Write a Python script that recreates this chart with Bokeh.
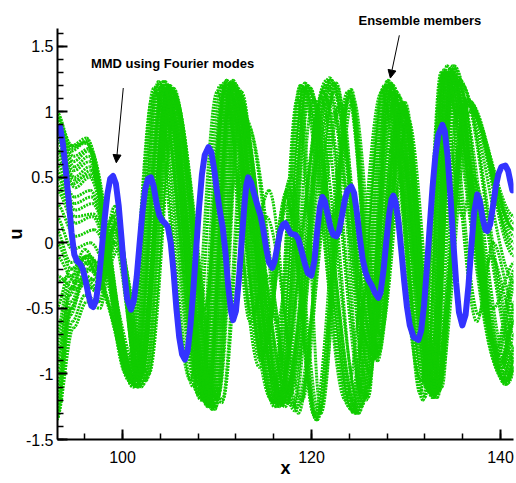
from bokeh.plotting import figure
from bokeh.models import Range1d, FixedTicker, Label, Arrow, NormalHead, Title
from bokeh.embed import file_html
from bokeh.resources import INLINE

# ---------------- data ----------------
# MMD (Fourier modes) curve: (x, u)
mmd_points = [
    (93.1, 0.86), (93.4, 0.88), (93.7, 0.75), (94.0, 0.55), (94.3, 0.33), (94.6, 0.08),
    (94.9, -0.09), (95.2, -0.14), (95.5, -0.16), (95.8, -0.20), (96.1, -0.29), (96.4, -0.40),
    (96.7, -0.48), (96.9, -0.49), (97.2, -0.44), (97.5, -0.28), (97.8, -0.05), (98.1, 0.18),
    (98.4, 0.37), (98.7, 0.49), (99.0, 0.51), (99.3, 0.45), (99.6, 0.28), (99.9, 0.03),
    (100.2, -0.24), (100.5, -0.43), (100.9, -0.51), (101.2, -0.44), (101.5, -0.26), (101.8, -0.01),
    (102.1, 0.23), (102.4, 0.41), (102.7, 0.49), (103.0, 0.50), (103.3, 0.43), (103.6, 0.30),
    (103.9, 0.21), (104.2, 0.17), (104.5, 0.15), (104.8, 0.12), (105.1, 0.00), (105.4, -0.22),
    (105.7, -0.50), (106.0, -0.72), (106.3, -0.85), (106.6, -0.89), (106.9, -0.82), (107.2, -0.62),
    (107.5, -0.35), (107.8, -0.04), (108.1, 0.27), (108.4, 0.52), (108.7, 0.67), (109.1, 0.73),
    (109.4, 0.69), (109.7, 0.56), (110.0, 0.39), (110.3, 0.24), (110.6, 0.12), (110.9, -0.08),
    (111.2, -0.34), (111.5, -0.53), (111.7, -0.59), (112.0, -0.52), (112.3, -0.29), (112.6, 0.01),
    (112.9, 0.29), (113.1, 0.44), (113.3, 0.50), (113.6, 0.46), (113.9, 0.38), (114.3, 0.28),
    (114.6, 0.21), (114.9, 0.10), (115.2, -0.04), (115.5, -0.15), (115.85, -0.19), (116.1, -0.14),
    (116.4, -0.02), (116.7, 0.09), (117.0, 0.14), (117.23, 0.15), (117.5, 0.11), (117.8, 0.07),
    (118.3, 0.06), (118.6, 0.03), (118.9, -0.05), (119.3, -0.16), (119.6, -0.23), (119.98, -0.25),
    (120.3, -0.14), (120.6, 0.09), (120.9, 0.28), (121.14, 0.35), (121.4, 0.32), (121.7, 0.22),
    (122.0, 0.12), (122.3, 0.06), (122.62, 0.05), (122.9, 0.09), (123.2, 0.20), (123.5, 0.32),
    (123.8, 0.40), (124.2, 0.43), (124.5, 0.38), (124.8, 0.23), (125.1, 0.04), (125.4, -0.12),
    (125.7, -0.22), (126.0, -0.28), (126.4, -0.33), (126.7, -0.38), (127.07, -0.42), (127.3, -0.38),
    (127.6, -0.22), (127.9, 0.00), (128.2, 0.21), (128.45, 0.33), (128.66, 0.36), (128.9, 0.31),
    (129.2, 0.16), (129.5, -0.06), (129.8, -0.29), (130.1, -0.49), (130.4, -0.63), (130.8, -0.72),
    (131.3, -0.74), (131.6, -0.67), (131.9, -0.48), (132.2, -0.20), (132.5, 0.12), (132.8, 0.42),
    (133.1, 0.66), (133.4, 0.82), (133.84, 0.90), (134.1, 0.85), (134.4, 0.66), (134.7, 0.35),
    (135.0, 0.01), (135.3, -0.30), (135.6, -0.53), (135.96, -0.63), (136.3, -0.55), (136.6, -0.33),
    (136.9, -0.04), (137.2, 0.23), (137.54, 0.37), (137.8, 0.32), (138.1, 0.19), (138.4, 0.10),
    (138.6, 0.09), (138.9, 0.14), (139.2, 0.28), (139.5, 0.43), (139.8, 0.53), (140.1, 0.58),
    (140.51, 0.59), (140.8, 0.55), (141.0, 0.48), (141.25, 0.40),
]

# Ensemble members: successive turning points (x, u) of each member
ens_a1 = [(93.0, 1.0), (94.6, 0.7), (96.3, 0.78), (101.0, -1.08), (103.8, 1.23), (108.5, -1.2),
          (111.0, 1.24), (116.3, -1.25), (119.3, 1.22), (124.5, -1.3), (128.1, 1.24), (132.8, -1.18),
          (134.3, 1.35), (140.5, -1.08), (141.5, -0.85)]
ens_a2 = [(93.0, 0.92), (94.8, 0.66), (96.5, 0.72), (101.3, -1.05), (104.2, 1.2), (108.8, -1.22),
          (111.3, 1.22), (117.0, -1.2), (121.9, 1.26), (126.7, -0.87), (129.7, 1.07), (133.0, -1.15),
          (135.0, 1.3), (140.0, -0.9), (141.5, -0.45)]
ens_a3 = [(93.0, 0.82), (94.8, 0.55), (96.5, 0.62), (100.8, -1.0), (103.5, 1.15), (108.0, -1.15),
          (110.5, 1.2), (114.5, -0.95), (117.3, 0.35), (120.5, -1.35), (124.1, 1.17), (127.0, -0.8),
          (129.8, 1.0), (133.2, -1.18), (136.6, 1.09), (141.5, -0.05)]
ens_a4 = [(93.0, 0.7), (95.0, 0.42), (96.5, 0.5), (101.2, -1.1), (104.5, 1.23), (109.2, -1.25),
          (111.6, 1.2), (116.8, -1.22), (119.8, 1.15), (124.8, -1.28), (128.3, 1.2), (133.0, -1.12),
          (134.8, 1.3), (140.6, -1.05), (141.5, -0.9)]
ens_a5 = [(93.0, 0.5), (95.0, 0.25), (96.8, 0.3), (101.5, -1.05), (105.0, 1.2), (109.5, -1.27),
          (112.0, 1.15), (117.5, -1.15), (122.3, 1.2), (126.5, -0.75), (129.3, 1.0), (132.5, -1.1),
          (134.5, 1.25), (139.5, -0.8), (141.5, -0.2)]
ens_a6 = [(93.0, 0.3), (95.0, 0.05), (97.0, 0.1), (101.8, -1.0), (105.3, 1.1), (110.0, -1.2),
          (112.3, 1.1), (115.0, -0.8), (117.8, 0.5), (120.8, -1.3), (124.4, 1.1), (127.3, -0.7),
          (130.2, 0.95), (133.5, -1.1), (136.8, 1.0), (141.5, 0.15)]
ens_a7 = [(93.0, 0.95), (94.7, 0.74), (96.2, 0.76), (100.6, -1.02), (103.3, 1.18), (107.5, -1.1),
          (110.3, 1.2), (115.8, -1.2), (118.8, 1.2), (124.0, -1.25), (127.6, 1.18), (132.2, -1.1),
          (133.9, 1.3), (140.0, -1.0), (141.5, -0.6)]
ens_b1 = [(93.0, -1.35), (94.6, -0.5), (95.8, -0.3), (97.2, -0.35), (99.2, 0.28), (101.8, -1.05),
          (104.8, 1.18), (109.5, -1.27), (111.8, 1.22), (116.6, -1.25), (119.5, 1.2), (124.7, -1.3),
          (128.4, 1.22), (133.0, -1.18), (134.6, 1.32), (140.6, -1.08), (141.5, -0.95)]
ens_b2 = [(93.0, -1.3), (94.5, -0.55), (96.0, -0.25), (97.5, -0.3), (99.3, 0.15), (102.2, -1.08),
          (105.3, 1.15), (109.8, -1.25), (112.0, 1.15), (117.2, -1.25), (122.0, 1.24), (126.9, -0.87),
          (129.6, 1.05), (132.8, -1.15), (135.2, 1.33), (140.2, -0.9), (141.5, -0.5)]
ens_b3 = [(93.0, -1.2), (94.5, -0.45), (96.2, -0.2), (97.8, -0.25), (99.5, 0.05), (102.5, -1.05),
          (105.6, 1.1), (110.0, -1.2), (112.5, 1.05), (115.2, -0.75), (117.6, 0.45), (120.5, -1.35),
          (124.0, 1.15), (126.9, -0.85), (129.8, 1.05), (133.0, -1.15), (136.5, 1.05), (141.5, 0.0)]
ens_b4 = [(93.0, -1.0), (94.4, -0.4), (96.0, -0.15), (97.8, -0.3), (99.6, -0.05), (102.8, -1.0),
          (105.6, 1.05), (110.2, -1.15), (112.5, 1.0), (117.2, -1.2), (120.2, 1.1), (125.2, -1.25),
          (128.8, 1.1), (133.3, -1.15), (135.3, 1.25), (141.0, -1.0), (141.5, -0.95)]
ens_b5 = [(93.0, -0.7), (94.3, -0.3), (96.0, -0.05), (97.6, -0.2), (99.0, 0.1), (102.0, -1.0),
          (104.9, 1.1), (109.3, -1.2), (111.5, 1.12), (116.5, -1.15), (121.5, 1.2), (126.2, -0.8),
          (129.2, 1.0), (132.5, -1.05), (134.8, 1.3), (139.8, -0.85), (141.5, -0.3)]
ens_b6 = [(93.0, -1.35), (94.7, -0.6), (96.0, -0.4), (97.5, -0.45), (99.3, 0.22), (101.6, -1.1),
          (104.6, 1.2), (109.0, -1.25), (111.3, 1.2), (114.8, -0.85), (117.5, 0.3), (120.3, -1.32),
          (123.8, 1.15), (127.0, -0.9), (129.6, 1.05), (132.9, -1.18), (136.4, 1.1), (141.5, -0.1)]
ens_c1 = [(93.0, 0.1), (94.5, -0.15), (96.5, -0.1), (101.2, -1.05), (104.2, 1.15), (108.7, -1.2),
          (111.2, 1.18), (116.2, -1.22), (119.1, 1.18), (124.3, -1.28), (127.8, 1.2), (132.6, -1.15),
          (134.1, 1.3), (140.3, -1.05), (141.5, -0.8)]
ens_c2 = [(93.0, -0.5), (94.5, -0.2), (96.3, -0.1), (97.3, -0.15), (99.0, 0.2), (101.7, -1.05),
          (105.0, 1.2), (109.6, -1.25), (111.9, 1.2), (117.0, -1.18), (122.2, 1.22), (126.6, -0.85),
          (129.5, 1.07), (132.9, -1.12), (135.1, 1.35), (140.3, -0.95), (141.5, -0.55)]
ens_c3 = [(93.0, 0.6), (94.9, 0.35), (96.6, 0.4), (101.1, -1.05), (104.1, 1.2), (108.6, -1.18),
          (111.1, 1.22), (114.6, -0.9), (117.4, 0.4), (120.6, -1.35), (124.2, 1.17), (127.1, -0.85),
          (129.9, 1.07), (133.1, -1.15), (136.7, 1.08), (141.5, 0.1)]
ens_d1 = [(93.0, 0.88), (94.8, 0.62), (96.4, 0.7), (101.4, -1.08), (105.2, 1.18), (110.5, -1.22),
          (113.0, 0.95), (118.0, -1.25), (121.2, 1.15), (125.5, -1.2), (129.0, 1.15), (133.6, -1.12),
          (135.6, 1.25), (141.5, -0.8)]
ens_d2 = [(93.0, -0.1), (95.0, -0.3), (96.8, -0.2), (101.6, -1.1), (104.8, 1.2), (108.2, -1.1),
          (110.8, 1.18), (113.5, -0.6), (115.0, -0.3), (118.2, -1.28), (123.0, 1.05), (125.8, -1.2),
          (128.0, 1.24), (131.8, -1.2), (134.0, 1.32), (137.5, -0.6), (139.0, -0.1), (141.5, -0.6)]
ens_d3 = [(93.0, 1.0), (94.6, 0.74), (96.2, 0.8), (100.4, -1.0), (103.2, 1.12), (107.2, -1.05),
          (110.0, 1.15), (112.4, 0.4), (113.2, 0.55), (116.0, -1.2), (118.5, 1.1), (120.3, -0.2),
          (122.3, 1.0), (126.0, -1.1), (128.5, 1.2), (131.5, -1.15), (133.7, 1.3), (136.0, 0.2),
          (137.0, 0.5), (141.5, -0.9)]
ens_d4 = [(93.0, -1.35), (94.8, -0.65), (96.2, -0.45), (97.6, -0.5), (99.4, 0.18), (102.0, -1.1),
          (105.2, 1.15), (109.8, -1.27), (112.2, 1.18), (117.3, -1.22), (121.0, 1.1), (125.0, -1.3),
          (128.7, 1.15), (132.9, -1.18), (135.0, 1.3), (140.8, -1.05), (141.5, -0.95)]
ens_d5 = [(93.0, 0.4), (95.0, 0.15), (96.8, 0.2), (101.4, -1.05), (104.4, 1.18), (109.0, -1.22),
          (111.6, 1.2), (114.0, 0.0), (115.2, 0.2), (119.0, -1.2), (122.6, 1.22), (126.2, -1.0),
          (128.2, 0.7), (129.0, 0.8), (133.3, -1.18), (136.2, 1.09), (141.5, -0.3)]
ens_d6 = [(93.0, -0.9), (94.6, -0.35), (96.1, -0.1), (97.4, -0.25), (99.1, 0.12), (101.9, -1.02),
          (104.7, 1.16), (107.7, -0.6), (108.7, -0.5), (111.0, 1.24), (116.0, -1.22), (118.8, 1.18),
          (121.0, -1.3), (124.0, 1.12), (126.8, -0.9), (129.8, 1.05), (133.2, -1.15), (136.5, 1.08),
          (141.5, 0.2)]
ens_d7 = [(93.0, 0.65), (94.8, 0.45), (96.6, 0.55), (101.3, -1.08), (104.3, 1.2), (108.9, -1.23),
          (111.5, 1.22), (116.9, -1.24), (119.9, 1.18), (122.2, 0.2), (123.3, 0.35), (125.3, -1.25),
          (128.6, 1.2), (132.8, -1.12), (134.8, 1.3), (140.4, -1.0), (141.5, -0.8)]
ens_d8 = [(93.0, 0.2), (94.7, -0.05), (96.6, 0.0), (101.6, -1.0), (105.4, 1.18), (109.8, -1.18),
          (112.6, 1.15), (115.4, -0.5), (116.4, -0.6), (119.2, 1.18), (123.6, -1.2), (127.4, 1.15),
          (131.6, -1.05), (133.8, 1.28), (139.8, -0.95), (141.5, -0.6)]
ens_d9 = [(93.0, -1.25), (94.5, -0.5), (95.9, -0.3), (97.4, -0.38), (99.2, 0.24), (101.9, -1.08),
          (104.9, 1.2), (109.2, -1.25), (111.7, 1.24), (114.3, 0.2), (115.5, 0.4), (118.6, -1.3),
          (122.4, 1.15), (126.4, -0.9), (129.4, 1.06), (132.7, -1.15), (134.9, 1.35), (139.2, -0.5),
          (141.5, -0.15)]
ens_d10 = [(93.0, 0.78), (94.9, 0.5), (96.5, 0.58), (101.0, -1.05), (103.9, 1.22), (108.3, -1.2),
           (110.9, 1.2), (116.1, -1.25), (121.6, 1.24), (126.3, -0.85), (129.1, 1.0), (132.4, -1.12),
           (134.4, 1.3), (139.7, -0.85), (141.5, -0.35)]
ens_e1 = [(93.0, 0.85), (94.9, 0.58), (96.4, 0.66), (101.1, -1.1), (104.3, 1.23), (109.0, -1.24),
          (111.5, 1.23), (116.6, -1.24), (119.6, 1.2), (124.6, -1.3), (128.2, 1.22), (132.9, -1.15),
          (134.6, 1.33), (140.5, -1.06), (141.5, -0.88)]
ens_e2 = [(93.0, -0.3), (94.6, -0.25), (96.4, -0.15), (97.4, -0.2), (99.1, 0.0), (101.9, -1.08),
          (104.9, 1.18), (109.4, -1.25), (111.8, 1.22), (117.1, -1.22), (122.1, 1.24), (126.8, -0.87),
          (129.6, 1.06), (132.9, -1.15), (135.1, 1.33), (140.1, -0.92), (141.5, -0.5)]
ens_e3 = [(93.0, 0.55), (94.9, 0.3), (96.7, 0.35), (101.3, -1.05), (104.6, 1.2), (109.1, -1.22),
          (111.4, 1.18), (114.7, -0.88), (117.5, 0.38), (120.5, -1.33), (124.1, 1.15), (127.0, -0.85),
          (129.7, 1.05), (133.1, -1.16), (136.6, 1.08), (141.5, 0.05)]
ens_e4 = [(93.0, -1.1), (94.5, -0.5), (96.1, -0.28), (97.6, -0.35), (99.4, 0.1), (102.3, -1.05),
          (105.4, 1.15), (109.9, -1.25), (112.3, 1.15), (116.9, -1.24), (119.7, 1.18), (124.9, -1.3),
          (128.6, 1.2), (133.1, -1.16), (134.9, 1.3), (140.8, -1.07), (141.5, -0.98)]
ens_e5 = [(93.0, 0.97), (94.6, 0.72), (96.1, 0.77), (100.7, -1.05), (103.6, 1.2), (108.2, -1.18),
          (110.7, 1.22), (116.0, -1.22), (118.9, 1.2), (124.2, -1.27), (127.7, 1.2), (132.4, -1.12),
          (134.0, 1.3), (140.2, -1.03), (141.5, -0.7)]
ens_e6 = [(93.0, 0.45), (95.0, 0.2), (96.9, 0.22), (101.6, -1.05), (105.1, 1.18), (109.7, -1.25),
          (112.1, 1.12), (117.6, -1.18), (122.5, 1.2), (126.6, -0.78), (129.4, 1.02), (132.6, -1.1),
          (134.7, 1.28), (139.6, -0.82), (141.5, -0.25)]
ens_e7 = [(93.0, -0.8), (94.4, -0.35), (96.0, -0.12), (97.7, -0.28), (99.5, 0.0), (102.6, -1.03),
          (105.5, 1.1), (110.1, -1.18), (112.4, 1.05), (115.1, -0.78), (117.6, 0.42), (120.6, -1.33),
          (124.1, 1.12), (127.0, -0.85), (129.9, 1.02), (133.3, -1.14), (136.6, 1.04), (141.5, 0.1)]
ens_e8 = [(93.0, 0.72), (94.9, 0.48), (96.6, 0.52), (101.5, -1.08), (105.3, 1.16), (110.6, -1.2),
          (113.2, 0.9), (118.2, -1.24), (121.4, 1.12), (125.7, -1.18), (129.2, 1.12), (133.8, -1.1),
          (135.8, 1.22), (141.5, -0.7)]
ens_e9 = [(93.0, -0.25), (95.0, -0.35), (96.9, -0.28), (101.8, -1.1), (104.9, 1.18), (108.4, -1.08),
          (111.0, 1.15), (113.7, -0.55), (115.2, -0.25), (118.4, -1.26), (123.2, 1.05), (126.0, -1.18),
          (128.2, 1.22), (132.0, -1.18), (134.2, 1.3), (137.7, -0.55), (139.2, 0.0), (141.5, -0.5)]
ens_e10 = [(93.0, 0.0), (94.6, -0.2), (96.7, -0.15), (101.4, -1.05), (104.4, 1.17), (108.9, -1.22),
           (111.4, 1.2), (116.4, -1.23), (119.3, 1.17), (124.5, -1.28), (128.0, 1.2), (132.8, -1.15),
           (134.4, 1.3), (140.4, -1.05), (141.5, -0.82)]

members = [ens_a1, ens_a2, ens_a3, ens_a4, ens_a5, ens_a6, ens_a7,
           ens_b1, ens_b2, ens_b3, ens_b4, ens_b5, ens_b6, ens_c1, ens_c2, ens_c3,
           ens_d1, ens_d2, ens_d3, ens_d4, ens_d5, ens_d6, ens_d7, ens_d8, ens_d9, ens_d10,
           ens_e1, ens_e2, ens_e3, ens_e4, ens_e5, ens_e6, ens_e7, ens_e8, ens_e9, ens_e10]

x_ticks = [100, 120, 140]
x_minor_ticks = [96, 100, 104, 108, 112, 116, 120, 124, 128, 132, 136, 140]
y_ticks = [-1.5, -1.0, -0.5, 0.0, 0.5, 1.0, 1.5]
y_tick_labels = ["-1.5", "-1", "-0.5", "0", "0.5", "1", "1.5"]
y_minor_ticks = [-1.5, -1.4, -1.3, -1.2, -1.1, -1.0, -0.9, -0.8, -0.7, -0.6, -0.5, -0.4, -0.3,
                 -0.2, -0.1, 0.0, 0.1, 0.2, 0.3, 0.4, 0.5, 0.6, 0.7, 0.8, 0.9, 1.0, 1.1, 1.2,
                 1.3, 1.4, 1.5, 1.6]

GREEN = "#11cc00"
BLUE = "#3333ff"
FONT = "Liberation Sans"

# ---------------- figure ----------------
p = figure(width=514, height=480,
           x_range=Range1d(93.12, 141.37), y_range=Range1d(-1.5, 1.635),
           output_backend="svg", toolbar_location=None,
           min_border_left=57, min_border_right=1, min_border_top=28, min_border_bottom=38)
p.outline_line_color = None
p.grid.visible = False
p.background_fill_color = "white"
p.border_fill_color = "white"

# ensemble members: smooth curves through each member's turning points
for mem in members:
    xs = [pt[0] for pt in mem]
    us = [pt[1] for pt in mem]
    x0 = xs[:-1]
    x1 = xs[1:]
    y0 = us[:-1]
    y1 = us[1:]
    cx0 = [a + (b - a) / 3.0 for a, b in zip(x0, x1)]
    cx1 = [b - (b - a) / 3.0 for a, b in zip(x0, x1)]
    p.bezier(x0=x0, y0=y0, x1=x1, y1=y1, cx0=cx0, cy0=y0, cx1=cx1, cy1=y1,
             line_color=GREEN, line_width=3, line_dash="2 1")

mmd_x = [pt[0] for pt in mmd_points]
mmd_u = [pt[1] for pt in mmd_points]
p.line(mmd_x, mmd_u, line_color=BLUE, line_width=6, line_join="round", line_cap="round")

# axes
xa = p.xaxis[0]
xa.ticker = FixedTicker(ticks=x_ticks, minor_ticks=x_minor_ticks)
ya = p.yaxis[0]
ya.ticker = FixedTicker(ticks=y_ticks, minor_ticks=y_minor_ticks)
ya.major_label_overrides = {t: s for t, s in zip(y_ticks, y_tick_labels)}
for ax in (xa, ya):
    ax.axis_line_width = 2
    ax.axis_line_color = "black"
    ax.major_tick_in = 10
    ax.major_tick_out = 0
    ax.minor_tick_in = 6
    ax.minor_tick_out = 0
    ax.major_tick_line_width = 2
    ax.minor_tick_line_width = 1.5
    ax.major_label_text_font = FONT
    ax.major_label_text_font_size = "16px"
    ax.major_label_text_color = "black"
    ax.axis_label_text_font = FONT
    ax.axis_label_text_font_size = "18px"
    ax.axis_label_text_font_style = "bold"
    ax.axis_label_text_color = "black"
xa.axis_label = "x"
ya.axis_label = "u"
xa.major_label_standoff = 11
ya.major_label_standoff = 4
xa.axis_label_standoff = -8
ya.axis_label_standoff = -3

# annotations
p.add_layout(Title(text="Ensemble members", align="left", offset=301, standoff=1,
                   text_font=FONT, text_font_size="13px", text_font_style="bold",
                   text_color="black"), "above")
p.add_layout(Label(x=105.29, y=1.369, text="MMD using Fourier modes", text_align="center",
                   text_baseline="middle", text_font=FONT, text_font_size="13px",
                   text_font_style="bold", text_color="black"))
p.add_layout(Arrow(end=NormalHead(size=8, fill_color="black", line_color="black"),
                   x_start=100.08, y_start=1.181, x_end=99.34, y_end=0.611,
                   line_color="black", line_width=1))
p.add_layout(Arrow(end=NormalHead(size=8, fill_color="black", line_color="black"),
                   x_start=129.29, y_start=1.583, x_end=128.34, y_end=1.257,
                   line_color="black", line_width=1))

open("out.html", "w").write(file_html(p, INLINE))
